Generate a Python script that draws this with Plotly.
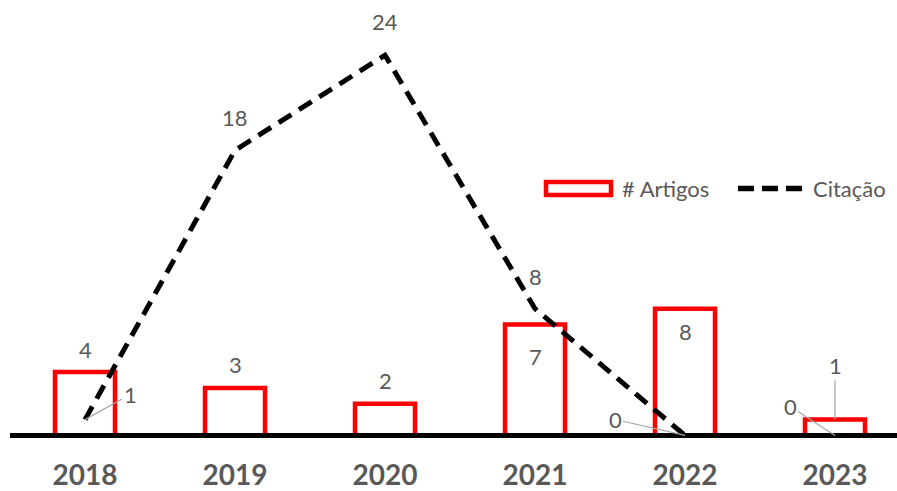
import plotly.graph_objects as go

years = ["2018", "2019", "2020", "2021", "2022", "2023"]
artigos = [4, 3, 2, 7, 8, 1]
citacao = [1, 18, 24, 8, 0, 0]

# label offsets in pixels (styling only)
bar_label_dy = [-23, -23, -23, 32, 23, -54]
bar_label_leader = [False, False, False, False, False, True]
line_label_dx = [45, 0, 0, 0, -70, -45]
line_label_dy = [-25, -33, -34, -32, -16, -29]
line_label_leader = [True, False, False, False, True, True]

W, H = 897, 491
L, R, T, B = 10, 0, 14, 50
GRAY = "#595959"
FONT = "Lato"

fig = go.Figure()
fig.add_trace(go.Bar(
    x=years, y=artigos, name="# Artigos", width=0.4,
    marker=dict(color="white", line=dict(color="#FF0000", width=4.5)),
    showlegend=False,
))
fig.add_trace(go.Scatter(
    x=years, y=citacao, name="Citação", mode="lines",
    line=dict(color="black", width=5, dash="15px,9px"),
    showlegend=False, cliponaxis=False,
))

lf = dict(size=22, color=GRAY, family=FONT)
ann = []
for i, v in enumerate(artigos):
    if bar_label_leader[i]:
        ann.append(dict(xref="x", yref="y", x=i, y=v, text=str(v), showarrow=True, arrowhead=0,
                        arrowwidth=1.2, arrowcolor="#A6A6A6", ax=0, ay=bar_label_dy[i],
                        standoff=0, font=lf))
    else:
        ann.append(dict(xref="x", yref="y", x=i, y=v, text=str(v), showarrow=False,
                        yshift=-bar_label_dy[i], font=lf))
for i, v in enumerate(citacao):
    if line_label_leader[i]:
        ann.append(dict(xref="x", yref="y", x=i, y=v, text=str(v), showarrow=True, arrowhead=0,
                        arrowwidth=1.2, arrowcolor="#A6A6A6", ax=line_label_dx[i], ay=line_label_dy[i],
                        standoff=0, font=lf))
    else:
        ann.append(dict(xref="x", yref="y", x=i, y=v, text=str(v), showarrow=False,
                        xshift=line_label_dx[i], yshift=-line_label_dy[i], font=lf))

pw = W - L - R
ph = H - T - B
def px(xp):
    return (xp - L) / pw
def py(yp):
    return (H - B - yp) / ph

# custom legend + baseline
shapes = [
    dict(type="rect", xref="paper", yref="paper", x0=px(546), x1=px(611), y0=py(195), y1=py(182),
         line=dict(color="#FF0000", width=4.5), fillcolor="white"),
    dict(type="line", xref="paper", yref="paper", x0=px(738), x1=px(802), y0=py(188.5), y1=py(188.5),
         line=dict(color="black", width=5.5, dash="16px,8px")),
    dict(type="line", xref="paper", yref="y", x0=0, x1=1, y0=0, y1=0,
         line=dict(color="black", width=5), layer="above"),
]
ann.append(dict(xref="paper", yref="paper", x=px(620), y=py(188.5), xanchor="left", yanchor="middle",
                text="# Artigos", showarrow=False, font=lf))
ann.append(dict(xref="paper", yref="paper", x=px(811), y=py(188.5), xanchor="left", yanchor="middle",
                text="Citação", showarrow=False, font=lf))

fig.update_layout(
    width=W, height=H,
    margin=dict(l=L, r=R, t=T, b=B, pad=0, autoexpand=False),
    paper_bgcolor="white", plot_bgcolor="white",
    showlegend=False,
    annotations=ann, shapes=shapes,
    xaxis=dict(type="category", range=[-0.5, -0.5 + pw / 150.0], showgrid=False, showline=False,
               zeroline=False, ticks="", automargin=False,
               tickfont=dict(size=28, color=GRAY, family=FONT, weight="bold"),
               ticklabelstandoff=15),
    yaxis=dict(range=[-0.35, 26.6], visible=False, showgrid=False, zeroline=False, automargin=False),
)

fig.write_html("out.html")
